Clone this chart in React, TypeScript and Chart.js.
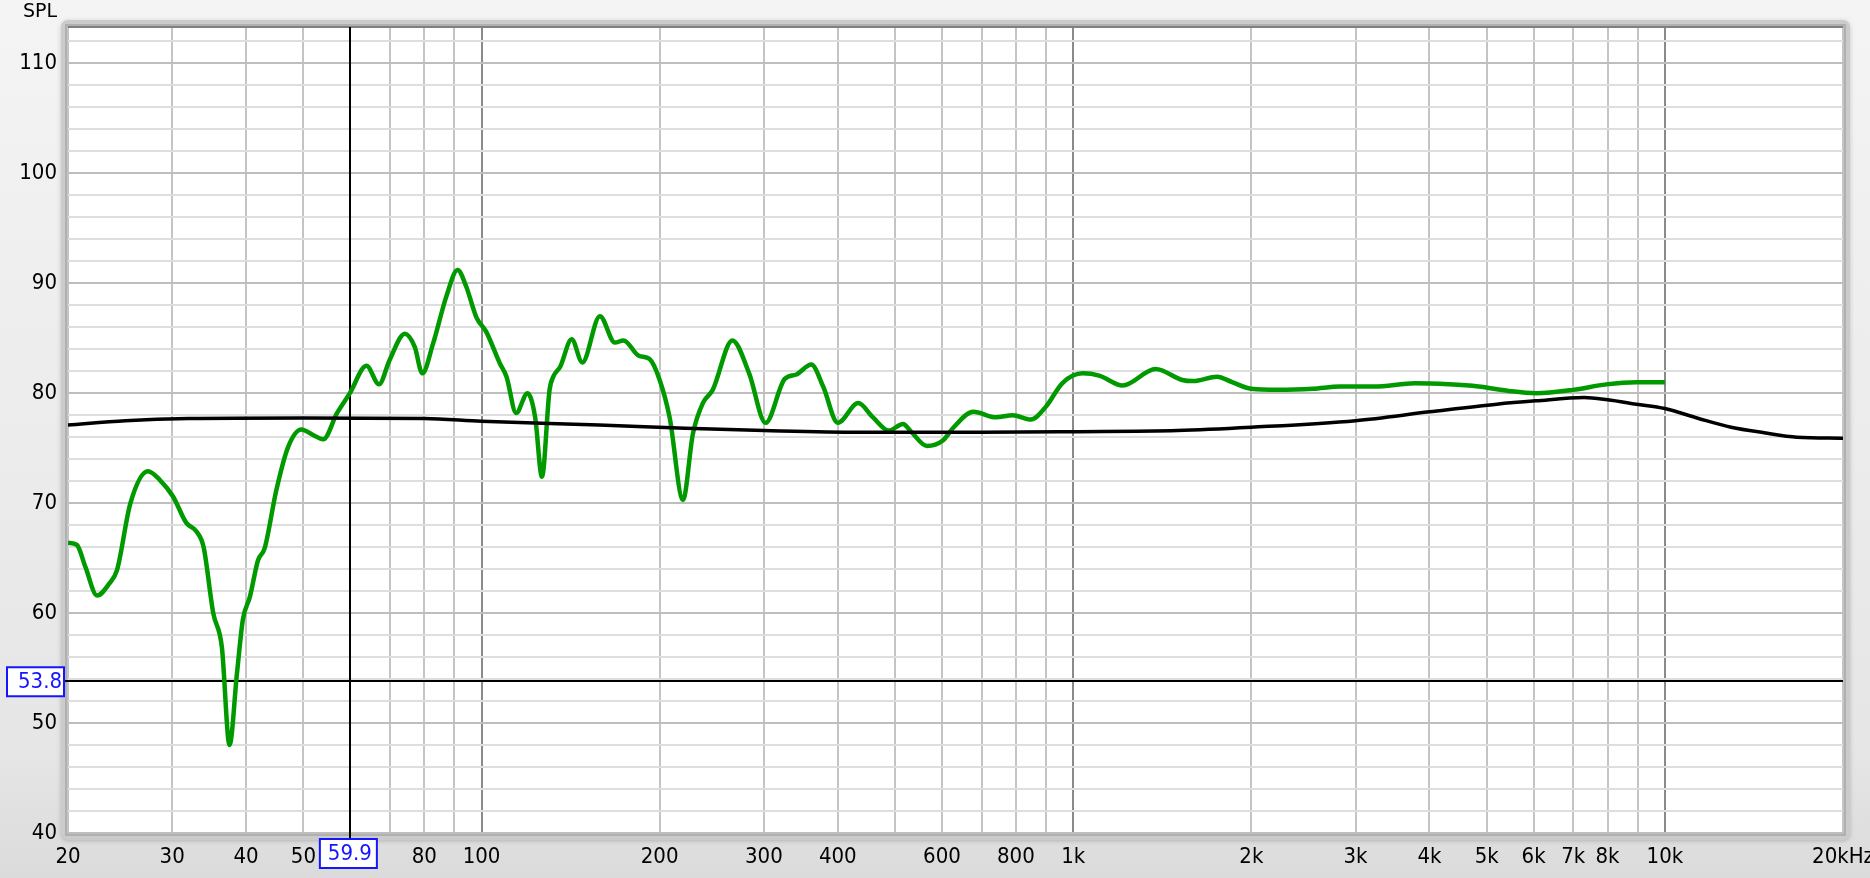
import React, { useEffect, useRef } from "react";
import { Chart, registerables } from "chart.js";

Chart.register(...registerables);

// Measured response (green)
const greenFreq = [
  20, 20.7, 21.4, 22.4, 23.5, 24.2, 25.5, 27.3, 28.6, 30.1, 31.7, 33.0, 33.9, 35.2, 36.4, 37.5, 38.6, 39.5,
  40.6, 41.9, 43.0, 45.0, 47.1, 49.6, 51.9, 54.0, 57.0, 59.9, 63.9, 67.1, 69.9, 74.2, 77.1, 79.4, 82.8,
  87.2, 91.1, 94.2, 98.0, 101.8, 107.4, 110.2, 114.4, 119.6, 123.2, 126.5, 130.3, 132.2, 135.8, 142,
  148, 158.5, 168, 173.8, 184.4, 192.3, 200, 207.9, 219, 227.6, 236.6, 245.9, 265.4, 283.3, 302, 325.4,
  340.5, 360.8, 377.9, 400, 433, 458.8, 488, 515.6, 532, 566, 602, 628, 678, 740, 790, 848, 900, 958,
  1038, 1106, 1212, 1378, 1528, 1596, 1750, 1856, 1998, 2224, 2542, 2826, 3226, 3778, 4316, 4840, 5446,
  6058, 6990, 7957, 8950, 10000,
];
const greenSpl = [
  66.4, 66.2, 64.2, 61.6, 62.7, 63.9, 70.0, 72.9, 72.1, 70.6, 68.2, 67.4, 66.0, 60.0, 56.9, 48.0, 54.5, 59.4,
  61.5, 64.8, 65.9, 71.2, 75.1, 76.7, 76.2, 75.8, 78.2, 80.0, 82.5, 80.8, 83.0, 85.4, 84.2, 81.8, 84.5,
  88.8, 91.2, 89.7, 86.9, 85.6, 82.7, 81.5, 78.2, 80.0, 77.8, 72.4, 80.3, 81.5, 82.4, 84.9,
  82.8, 87.0, 84.6, 84.8, 83.4, 83.1, 81.2, 77.8, 70.3, 76.3, 79.1, 80.3, 84.8, 81.8, 77.3, 81.3,
  81.7, 82.6, 80.6, 77.3, 79.1, 77.8, 76.6, 77.2, 76.5, 75.2, 75.7, 76.9, 78.3, 77.8, 78.0, 77.6, 78.8, 80.9,
  81.8, 81.6, 80.7, 82.2, 81.2, 81.1, 81.5, 81.0, 80.4, 80.3, 80.4, 80.6, 80.6, 80.9, 80.8, 80.6, 80.2,
  80.0, 80.3, 80.8, 81.0, 81.0,
];

// Target curve (black)
const blackFreq = [
  20, 25, 32, 50, 80, 100, 158, 221, 300, 436, 700, 1000, 1500, 2000, 3000, 4000, 5200, 6050, 7300, 8000,
  8950, 10000, 11400, 12940, 14720, 16720, 20000,
];
const blackSpl = [
  77.1, 77.5, 77.7, 77.75, 77.7, 77.45, 77.1, 76.8, 76.6, 76.45, 76.45, 76.5, 76.6, 76.9, 77.5, 78.3, 79.0,
  79.3, 79.6, 79.4, 79.0, 78.6, 77.7, 76.9, 76.4, 76.0, 75.9,
];

// Axes
const xGridValues = [
  20, 30, 40, 50, 60, 70, 80, 90, 100, 200, 300, 400, 500, 600, 700, 800, 900, 1000, 2000, 3000, 4000,
  5000, 6000, 7000, 8000, 9000, 10000, 20000,
];
const xLabeledValues = [20, 30, 40, 50, 80, 100, 200, 300, 400, 600, 800, 1000, 2000, 3000, 4000, 5000, 6000, 7000, 8000, 10000, 20000];
const xLabelTexts = ["20", "30", "40", "50", "80", "100", "200", "300", "400", "600", "800", "1k", "2k", "3k", "4k", "5k", "6k", "7k", "8k", "10k", "20kHz"];
const xDecades = [100, 1000, 10000];
const yGridValues = [40, 42, 44, 46, 48, 50, 52, 54, 56, 58, 60, 62, 64, 66, 68, 70, 72, 74, 76, 78, 80, 82, 84, 86, 88, 90, 92, 94, 96, 98, 100, 102, 104, 106, 108, 110, 112];
const yLabeledValues = [40, 50, 60, 70, 80, 90, 100, 110];
const yMin = 40;
const yMax = 113.3;
const yTitle = "SPL";

// Cursor
const cursorFreq = 59.9;
const cursorSpl = 53.8;

const FONT = "'DejaVu Sans Condensed', 'DejaVu Sans', sans-serif";

const framePlugin = {
  id: "frame",
  beforeDraw(chart: any) {
    const { ctx, chartArea: a } = chart;
    ctx.save();
    const g = ctx.createLinearGradient(0, 0, 0, chart.height);
    g.addColorStop(0, "#f4f4f4");
    g.addColorStop(0.85, "#e6e6e6");
    g.addColorStop(1, "#dbdbdb");
    ctx.fillStyle = g;
    ctx.fillRect(0, 0, chart.width, chart.height);
    ctx.shadowColor = "rgba(0,0,0,0.2)";
    ctx.shadowBlur = 4;
    ctx.shadowOffsetY = 1;
    ctx.fillStyle = "#cbcbcb";
    ctx.beginPath();
    ctx.roundRect(a.left - 7, a.top - 7, a.right - a.left + 14, a.bottom - a.top + 14, 7);
    ctx.fill();
    ctx.shadowColor = "transparent";
    ctx.fillStyle = "#b0b0b0";
    ctx.fillRect(a.left - 3, a.top - 3, a.right - a.left + 6, a.bottom - a.top + 6);
    ctx.fillStyle = "#ffffff";
    ctx.fillRect(a.left, a.top, a.right - a.left, a.bottom - a.top);
    ctx.restore();
  },
  beforeDatasetsDraw(chart: any) {
    const { ctx, chartArea: a } = chart;
    const x = Math.round(chart.scales.x.getPixelForValue(cursorFreq));
    const y = Math.round(chart.scales.y.getPixelForValue(cursorSpl));
    ctx.save();
    ctx.fillStyle = "#808080";
    ctx.fillRect(a.left, a.top - 1, a.right - a.left, 2);
    ctx.fillStyle = "#000";
    ctx.fillRect(x - 1, a.top, 2, a.bottom - a.top + 6);
    ctx.fillRect(a.left - 4, y - 1, a.right - a.left + 4, 2);
    ctx.restore();
  },
  afterDraw(chart: any) {
    const { ctx, chartArea: a } = chart;
    const x = chart.scales.x.getPixelForValue(cursorFreq);
    const y = chart.scales.y.getPixelForValue(cursorSpl);
    ctx.save();
    ctx.font = `22px ${FONT}`;
    ctx.lineWidth = 2;
    ctx.strokeStyle = "#1515ff";
    // y cursor box
    ctx.fillStyle = "#fff";
    ctx.fillRect(a.left - 61, y - 14, 57, 29);
    ctx.strokeRect(a.left - 61, y - 14, 57, 29);
    ctx.fillStyle = "#1515ff";
    ctx.textAlign = "right";
    ctx.textBaseline = "middle";
    ctx.fillText(cursorSpl.toFixed(1), a.left - 6, y + 1);
    // x cursor box
    ctx.fillStyle = "#fff";
    ctx.fillRect(x - 30, a.bottom + 6, 57, 29);
    ctx.strokeRect(x - 30, a.bottom + 6, 57, 29);
    ctx.fillStyle = "#1515ff";
    ctx.textAlign = "center";
    ctx.fillText(cursorFreq.toFixed(1), x, a.bottom + 21);
    // title
    ctx.fillStyle = "#000";
    ctx.font = `19px 'DejaVu Sans', sans-serif`;
    ctx.textAlign = "center";
    ctx.fillText(yTitle, 40, 12);
    ctx.restore();
  },
};

export default function App() {
  const ref = useRef<HTMLCanvasElement | null>(null);

  useEffect(() => {
    if (!ref.current) return;
    const chart = new Chart(ref.current, {
      type: "line",
      data: {
        datasets: [
          {
            data: blackFreq.map((f, i) => ({ x: f, y: blackSpl[i] })),
            borderColor: "#000000",
            borderWidth: 3.5,
            pointRadius: 0,
            cubicInterpolationMode: "monotone",
            fill: false,
          },
          {
            data: greenFreq.map((f, i) => ({ x: f, y: greenSpl[i] })),
            borderColor: "#009900",
            borderWidth: 4.5,
            pointRadius: 0,
            cubicInterpolationMode: "monotone",
            fill: false,
          },
        ],
      },
      options: {
        animation: false,
        responsive: false,
        maintainAspectRatio: false,
        events: [],
        layout: { padding: { left: 0, top: 27, right: 27, bottom: 0 } },
        plugins: { legend: { display: false }, tooltip: { enabled: false } },
        scales: {
          x: {
            type: "logarithmic",
            min: 20,
            max: 20000,
            afterBuildTicks: (s: any) => {
              s.ticks = xGridValues.map((v) => ({ value: v }));
            },
            afterFit: (s: any) => {
              s.height = 45;
              s.paddingLeft = 0;
              s.paddingRight = 0;
            },
            border: { display: false },
            grid: {
              drawTicks: false,
              lineWidth: 2,
              color: (c: any) => (xDecades.includes(c.tick?.value) ? "#8a8a8a" : "#c4c4c4"),
            },
            ticks: {
              autoSkip: false,
              maxRotation: 0,
              minRotation: 0,
              padding: 11,
              color: "#000",
              font: { family: FONT, size: 22 },
              callback: (v: any) => {
                const i = xLabeledValues.indexOf(Number(v));
                return i >= 0 ? xLabelTexts[i] : "";
              },
            },
          },
          y: {
            type: "linear",
            min: yMin,
            max: yMax,
            afterBuildTicks: (s: any) => {
              s.ticks = yGridValues.map((v) => ({ value: v }));
            },
            afterFit: (s: any) => {
              s.width = 68;
              s.paddingTop = 0;
              s.paddingBottom = 0;
            },
            border: { display: false },
            grid: {
              drawTicks: false,
              lineWidth: 2,
              color: (c: any) => (c.tick && c.tick.value % 10 === 0 ? "#bebebe" : "#dedede"),
            },
            ticks: {
              autoSkip: false,
              padding: 11,
              color: "#000",
              font: { family: FONT, size: 22 },
              callback: (v: any) => (yLabeledValues.includes(Number(v)) ? String(v) : ""),
            },
          },
        },
      },
      plugins: [framePlugin],
    } as any);
    return () => chart.destroy();
  }, []);

  return (
    <div style={{ position: "absolute", left: 0, top: 0, width: 1870, height: 878, overflow: "hidden" }}>
      <canvas ref={ref} width={1870} height={878} style={{ width: 1870, height: 878, display: "block" }} />
    </div>
  );
}
